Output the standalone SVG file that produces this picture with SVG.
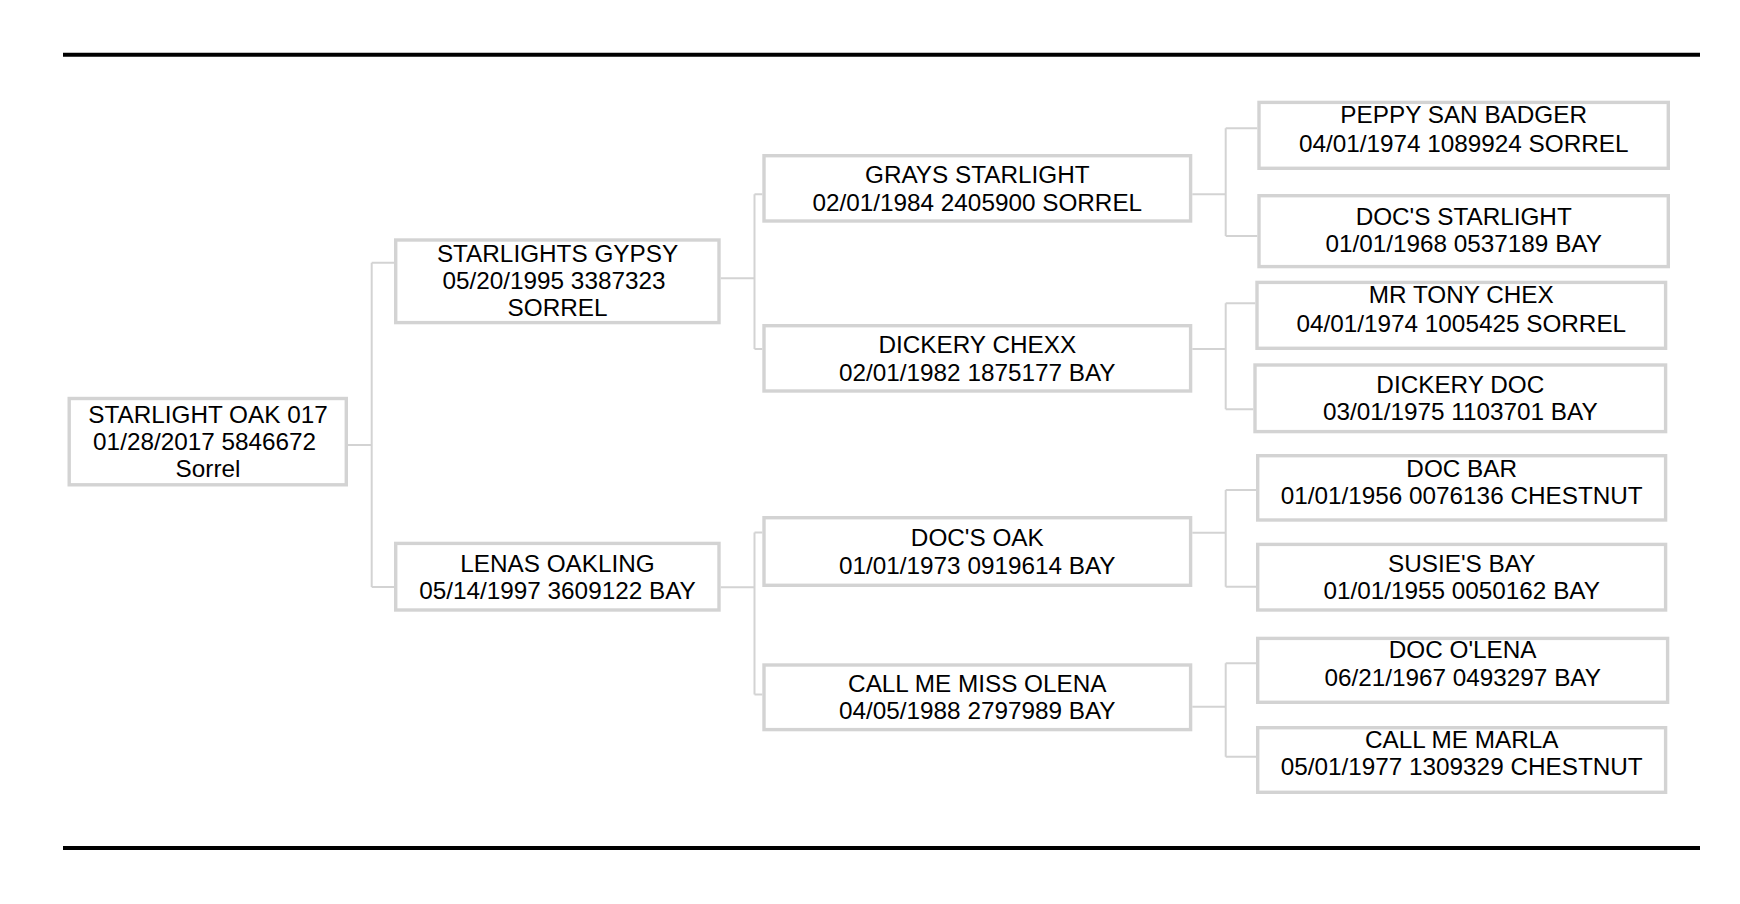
<svg xmlns="http://www.w3.org/2000/svg" width="1740" height="904" viewBox="0 0 1740 904">
<style>
.box{fill:#ffffff;stroke:#d3d3d3;stroke-width:3.4}
.t{font-family:"Liberation Sans",Arial,sans-serif;font-size:24.3px;fill:#000000;text-anchor:middle}
.c{fill:none;stroke:#d3d3d3;stroke-width:2}
.rule{stroke:#000000;stroke-width:4}
</style>
<rect width="1740" height="904" fill="#ffffff"/>
<line class="rule" x1="63" y1="54.8" x2="1700" y2="54.8"/>
<line class="rule" x1="63" y1="848" x2="1700" y2="848"/>
<g id="connectors">
<path class="c" d="M348,445 H371.7 M371.7,262.7 V587 M371.7,262.7 H394 M371.7,587 H394"/>
<path class="c" d="M720.7,278.3 H754.5 M754.5,194.3 V349 M754.5,194.3 H762.3 M754.5,349 H762.3"/>
<path class="c" d="M720.7,587.3 H754.5 M754.5,532.5 V694.5 M754.5,532.5 H762.3 M754.5,694.5 H762.3"/>
<path class="c" d="M1192.3,194.3 H1225.7 M1225.7,128.3 V236 M1225.7,128.3 H1257.3 M1225.7,236 H1257.3"/>
<path class="c" d="M1192.3,349 H1225.7 M1225.7,303.3 V409.3 M1225.7,303.3 H1255.3 M1225.7,409.3 H1253.3"/>
<path class="c" d="M1192.3,532.7 H1225.7 M1225.7,490 V586.7 M1225.7,490 H1256 M1225.7,586.7 H1256"/>
<path class="c" d="M1192.3,706.7 H1225.7 M1225.7,663.3 V756.7 M1225.7,663.3 H1256 M1225.7,756.7 H1256"/>
</g>
<g id="n-root">
<rect class="box" x="69.2" y="398.5" width="277.1" height="86.3"/>
<text class="t" x="208" y="422.7">STARLIGHT OAK 017</text>
<text class="t" x="204.6" y="450">01/28/2017 5846672</text>
<text class="t" x="208" y="477">Sorrel</text>
</g>
<g id="n-starlights-gypsy">
<rect class="box" x="395.7" y="240" width="323.3" height="82.6"/>
<text class="t" x="557.5" y="261.7">STARLIGHTS GYPSY</text>
<text class="t" x="554" y="289">05/20/1995 3387323</text>
<text class="t" x="557.5" y="315.7">SORREL</text>
</g>
<g id="n-lenas-oakling">
<rect class="box" x="395.7" y="543.4" width="323.3" height="66.6"/>
<text class="t" x="557.5" y="571.7">LENAS OAKLING</text>
<text class="t" x="557.5" y="599">05/14/1997 3609122 BAY</text>
</g>
<g id="n-grays-starlight">
<rect class="box" x="764" y="155.7" width="426.6" height="65.3"/>
<text class="t" x="977.3" y="182.7">GRAYS STARLIGHT</text>
<text class="t" x="977.3" y="210.7">02/01/1984 2405900 SORREL</text>
</g>
<g id="n-dickery-chexx">
<rect class="box" x="764" y="325.7" width="426.6" height="65.3"/>
<text class="t" x="977.3" y="353.3">DICKERY CHEXX</text>
<text class="t" x="977.3" y="380.7">02/01/1982 1875177 BAY</text>
</g>
<g id="n-docs-oak">
<rect class="box" x="764" y="517.7" width="426.6" height="67.6"/>
<text class="t" x="977.3" y="545.7">DOC'S OAK</text>
<text class="t" x="977.3" y="574">01/01/1973 0919614 BAY</text>
</g>
<g id="n-call-me-miss-olena">
<rect class="box" x="764" y="665" width="426.6" height="64.6"/>
<text class="t" x="977.3" y="692.3">CALL ME MISS OLENA</text>
<text class="t" x="977.3" y="719">04/05/1988 2797989 BAY</text>
</g>
<g id="n-peppy-san-badger">
<rect class="box" x="1259" y="102.4" width="409.3" height="65.9"/>
<text class="t" x="1463.7" y="123.3">PEPPY SAN BADGER</text>
<text class="t" x="1463.7" y="151.7">04/01/1974 1089924 SORREL</text>
</g>
<g id="n-docs-starlight">
<rect class="box" x="1259" y="195.7" width="409.3" height="70.9"/>
<text class="t" x="1463.7" y="225">DOC'S STARLIGHT</text>
<text class="t" x="1463.7" y="252.3">01/01/1968 0537189 BAY</text>
</g>
<g id="n-mr-tony-chex">
<rect class="box" x="1257" y="282.4" width="408.6" height="65.9"/>
<text class="t" x="1461.3" y="303.3">MR TONY CHEX</text>
<text class="t" x="1461.3" y="331.7">04/01/1974 1005425 SORREL</text>
</g>
<g id="n-dickery-doc">
<rect class="box" x="1255" y="365" width="410.6" height="66.6"/>
<text class="t" x="1460.3" y="392.7">DICKERY DOC</text>
<text class="t" x="1460.3" y="420">03/01/1975 1103701 BAY</text>
</g>
<g id="n-doc-bar">
<rect class="box" x="1257.7" y="455.7" width="407.9" height="64.3"/>
<text class="t" x="1461.7" y="476.7">DOC BAR</text>
<text class="t" x="1461.7" y="504">01/01/1956 0076136 CHESTNUT</text>
</g>
<g id="n-susies-bay">
<rect class="box" x="1257.7" y="544.4" width="407.9" height="65.6"/>
<text class="t" x="1461.7" y="571.7">SUSIE'S BAY</text>
<text class="t" x="1461.7" y="599.3">01/01/1955 0050162 BAY</text>
</g>
<g id="n-doc-olena">
<rect class="box" x="1257.7" y="638.4" width="409.9" height="63.9"/>
<text class="t" x="1462.7" y="658.3">DOC O'LENA</text>
<text class="t" x="1462.7" y="686">06/21/1967 0493297 BAY</text>
</g>
<g id="n-call-me-marla">
<rect class="box" x="1257.7" y="727.7" width="407.9" height="64.6"/>
<text class="t" x="1461.7" y="748.3">CALL ME MARLA</text>
<text class="t" x="1461.7" y="775">05/01/1977 1309329 CHESTNUT</text>
</g>
</svg>
